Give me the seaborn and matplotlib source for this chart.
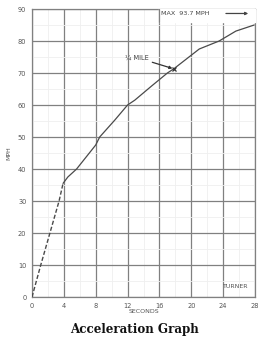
import matplotlib
matplotlib.use("Agg")
import matplotlib.pyplot as plt
import seaborn as sns
import pandas as pd
import numpy as np

# Data
t_dash = [0, 1.1, 2.25, 3.4, 3.9]
v_dash = [0, 10, 20, 30, 35.5]
t_solid = [3.9, 4.5, 5.6, 8, 8.5, 10.4, 12, 12.9, 15, 17, 17.8, 21, 23.5, 25.6, 27.9]
v_solid = [35.5, 37.5, 40, 47.5, 50, 55.3, 60, 61.5, 65.9, 70, 71.3, 77.5, 80, 83.1, 85]
x_ticks = [0, 4, 8, 12, 16, 20, 24, 28]
x_labels = ["0", "4", "8", "12", "16", "20", "24", "28"]
y_ticks = [0, 10, 20, 30, 40, 50, 60, 70, 80, 90]
y_labels = ["0", "10", "20", "30", "40", "50", "60", "70", "80", "90"]
quarter_mile = (17.8, 71.3)

sns.set_style("white")
plt.rcParams['font.family'] = ['DejaVu Sans']

fig = plt.figure(figsize=(2.67, 3.45), dpi=100)
ax = fig.add_axes([32/267, 1-297/345, (255-32)/267, (297-9)/345])

gc = "#808080"
lc = "#4a4a4a"

df_d = pd.DataFrame({"t": t_dash, "v": v_dash})
df_s = pd.DataFrame({"t": t_solid, "v": v_solid})
sns.lineplot(data=df_d, x="t", y="v", ax=ax, color=lc, lw=1.0, linestyle=(0, (3, 1.5)), zorder=4)
sns.lineplot(data=df_s, x="t", y="v", ax=ax, color=lc, lw=0.9, zorder=4)

ax.set_xlim(0, 28)
ax.set_ylim(0, 90)
ax.set_xticks(x_ticks)
ax.set_xticklabels(x_labels)
ax.set_yticks(y_ticks)
ax.set_yticklabels(y_labels)
ax.set_xticks(np.arange(2, 28, 4), minor=True)
ax.set_yticks(np.arange(5, 90, 10), minor=True)
ax.grid(True, which="major", color=gc, lw=0.9)
ax.grid(True, which="minor", color="#efefef", lw=0.6)
ax.tick_params(axis="both", which="major", labelsize=4.8, colors="#555555", length=3, width=0.8, pad=1)
ax.tick_params(axis="both", which="minor", length=0)
for s in ax.spines.values():
    s.set_color(gc)
    s.set_linewidth(0.9)

ax.set_xlabel("SECONDS", fontsize=4.5, color="#555555", labelpad=0)
ax.set_ylabel("MPH", fontsize=4.5, color="#555555", labelpad=5)

# quarter mile marker
ax.plot([quarter_mile[0]], [quarter_mile[1]], marker="x", color="#333333", ms=3, mew=0.9, zorder=5)
ax.annotate("¼ MILE", xy=quarter_mile, xytext=(13.2, 74.8), fontsize=4.8, color="#444444",
            ha="center", va="center",
            arrowprops=dict(arrowstyle="-|>", color="#333333", lw=0.9, mutation_scale=4,
                            shrinkA=0, shrinkB=1))

# MAX box
ax.text(16.2, 88.6, "MAX  93.7 MPH", fontsize=4.6, color="#444444", ha="left", va="center",
        bbox=dict(boxstyle="square,pad=0.35", fc="white", ec="none"), zorder=6)
ax.fill_between([16.0, 28], 85.8, 90, color="white", zorder=3)
ax.plot([16.0, 16.0], [85.8, 90], color=gc, lw=0.9, zorder=6)
ax.annotate("", xy=(27.5, 88.6), xytext=(24.0, 88.6),
            arrowprops=dict(arrowstyle="-|>", color="#444444", lw=0.9, mutation_scale=4), zorder=6)

ax.text(25.6, 3.3, "TURNER", fontsize=4.5, color="#555555", ha="center", va="center")

fig.text(0.505, 1-330/345, "Acceleration Graph", fontsize=8.6, fontweight="bold",
         family="DejaVu Serif", ha="center", va="center", color="#111111")

fig.savefig("out.png", dpi=100, facecolor="white")
